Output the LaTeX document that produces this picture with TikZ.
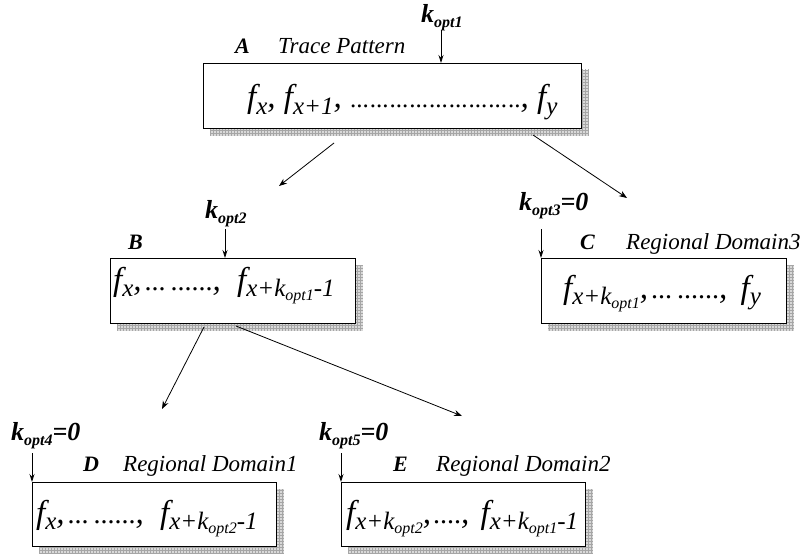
\documentclass[tikz,border=0pt]{standalone}
\usepackage{fontspec}
\setmainfont{Liberation Serif}
\usetikzlibrary{arrows.meta,patterns,calc,backgrounds}

% subscripts for the sequence entries
\newcommand{\fsub}[1]{\raisebox{-6pt}{\fontsize{25}{25}\selectfont\itshape #1}}
\newcommand{\ksub}[1]{\raisebox{-4pt}{\fontsize{16}{16}\selectfont\itshape #1}}
% run of baseline dots
\newcommand{\dotrun}[2]{{\fontsize{#1}{#1}\selectfont\upshape #2}}
% bold k with its subscript
\newcommand{\kopt}[1]{\textbf{\textit{k}}\raisebox{-5pt}{\fontsize{16}{16}\selectfont\bfseries\itshape opt#1}}

\tikzset{
  regbox/.style={draw=black, line width=0.9pt, fill=white, anchor=north west, inner sep=0pt},
  seqtext/.style={anchor=base west, inner sep=0pt, font=\fontsize{33}{33}\selectfont\itshape},
  tagtext/.style={anchor=base west, inner sep=0pt, font=\fontsize{22}{22}\selectfont\bfseries\itshape},
  titletext/.style={anchor=base west, inner sep=0pt, font=\fontsize{23}{23}\selectfont\itshape},
  ktext/.style={anchor=base west, inner sep=0pt, font=\fontsize{26}{26}\selectfont\bfseries\itshape},
  link/.style={line width=0.8pt, -{Stealth[length=8pt,width=6pt]}},
  kdrop/.style={line width=0.8pt, -{Stealth[length=8pt,width=5pt]}}
}

\begin{document}
\begin{tikzpicture}[x=1pt, y=-1pt]
\useasboundingbox (0,0) rectangle (800,559);

% boxes
\node[regbox, minimum width=378pt, minimum height=65pt] (A) at (203,63) {};
\node[regbox, minimum width=245pt, minimum height=65pt] (B) at (110,258) {};
\node[regbox, minimum width=245pt, minimum height=65pt] (C) at (541,258) {};
\node[regbox, minimum width=244pt, minimum height=64pt] (D) at (32,482) {};
\node[regbox, minimum width=244pt, minimum height=64pt] (E) at (341,482) {};

% hatched drop shadows
\begin{scope}[on background layer]
\foreach \n in {A,B,C,D,E}{
  \fill[gray!30] ($(\n.north west)+(7,7)$) rectangle ($(\n.south east)+(7,7)$);
  \fill[pattern=grid, pattern color=gray!70] ($(\n.north west)+(7,7)$) rectangle ($(\n.south east)+(7,7)$);
}
\end{scope}

% sequence contents
\node[seqtext] (sa) at (247,108) {f\fsub{x}, f\fsub{x+1}, \dotrun{25}{...\kern1pt...\kern1pt...\kern1pt...\kern1pt...\kern1pt...\kern1pt...\kern1pt...\kern1pt..}, f\fsub{y}};
\node[seqtext] (sb) at (113,290) {f\fsub{x},\kern3pt\dotrun{28}{...\kern5pt......}, \kern8pt f\fsub{x+k\ksub{opt1}-1}};
\node[seqtext] (sc) at (563,298) {f\fsub{x+k\ksub{opt1}},\kern3pt\dotrun{28}{...\kern5pt......}, \kern5pt f\fsub{y}};
\node[seqtext] (sd) at (36,523) {f\fsub{x},\kern3pt\dotrun{28}{...\kern5pt......}, \kern8pt f\fsub{x+k\ksub{opt2}-1}};
\node[seqtext] (se) at (346,523) {f\fsub{x+k\ksub{opt2}},\kern2pt\dotrun{28}{....}, \kern3pt f\fsub{x+k\ksub{opt1}-1}};

% box tags and titles
\node[tagtext] (ta) at (235,54) {A};
\node[titletext] (na) at (278,54) {Trace Pattern};
\node[tagtext] (tb) at (128,249) {B};
\node[tagtext] (tc) at (580,249) {C};
\node[titletext] (nc) at (626,249) {Regional Domain3};
\node[tagtext] (td) at (83,471) {D};
\node[titletext] (nd) at (123,471) {Regional Domain1};
\node[tagtext] (te) at (393,471) {E};
\node[titletext] (ne) at (436,471) {Regional Domain2};

% k labels
\node[ktext] (k1) at (421,23) {\kopt{1}};
\node[ktext] (k2) at (205,218) {\kopt{2}};
\node[ktext] (k3) at (519,210) {\kopt{3}=0};
\node[ktext] (k4) at (11,440) {\kopt{4}=0};
\node[ktext] (k5) at (319,440) {\kopt{5}=0};

% drop arrows onto the boxes
\coordinate (k1s) at (441,30);  \coordinate (k1e) at (441,63);
\coordinate (k2s) at (225,229); \coordinate (k2e) at (225,258);
\coordinate (k3s) at (541,229); \coordinate (k3e) at (541,258);
\coordinate (k4s) at (32,453);  \coordinate (k4e) at (32,482);
\coordinate (k5s) at (341,453); \coordinate (k5e) at (341,482);
\foreach \s/\e in {k1s/k1e,k2s/k2e,k3s/k3e,k4s/k4e,k5s/k5e}
  \draw[kdrop] (\s) -- (\e);

% splitting connectors
\coordinate (ab0) at (334,143); \coordinate (ab1) at (279,186);
\coordinate (ac0) at (533,135); \coordinate (ac1) at (627,198);
\coordinate (bd0) at (204,327); \coordinate (bd1) at (162,409);
\coordinate (be0) at (236,326); \coordinate (be1) at (462,416);
\draw[link] (ab0) -- (ab1);
\draw[link] (ac0) -- (ac1);
\draw[link] (bd0) -- (bd1);
\draw[link] (be0) -- (be1);
\end{tikzpicture}
\end{document}
